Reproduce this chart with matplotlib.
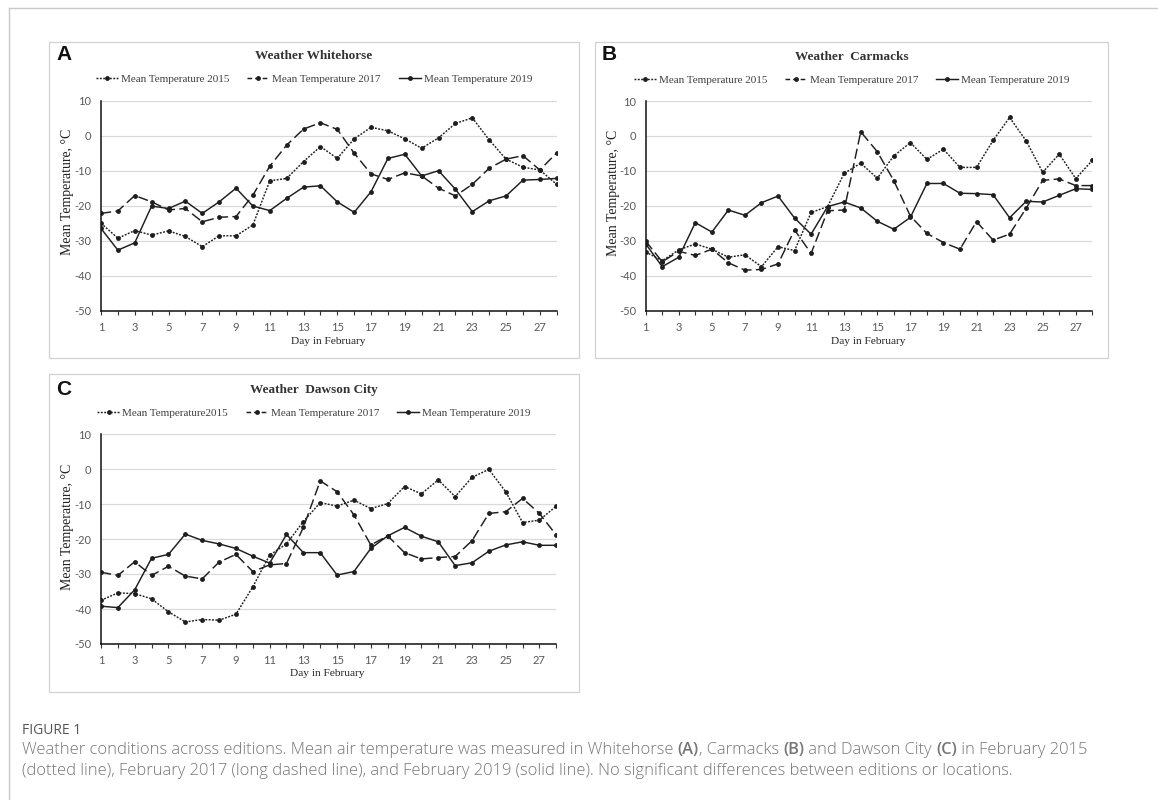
import matplotlib
matplotlib.use('Agg')
import matplotlib.pyplot as plt
from matplotlib.patches import Rectangle
from matplotlib.lines import Line2D

plt.rcParams['axes.unicode_minus'] = False

days = list(range(1, 29))
day_labels = [str(d) if d % 2 == 1 else '' for d in days]
y_ticks = [-50, -40, -30, -20, -10, 0, 10]

whitehorse_2015 = [-25.0, -29.3, -27.1, -28.4, -27.2, -28.8, -31.7, -28.6, -28.6, -25.5, -12.9, -12.2, -7.4, -3.1,
                   -6.5, -0.9, 2.4, 1.4, -0.9, -3.6, -0.6, 3.5, 5.1, -1.2, -6.7, -9.0, -9.8, -13.9]
whitehorse_2017 = [-22.2, -21.5, -17.1, -18.9, -21.2, -20.8, -24.6, -23.3, -23.1, -17.0, -8.7, -2.7, 1.9, 3.7,
                   1.8, -5.0, -10.9, -12.5, -10.6, -11.5, -15.0, -17.2, -13.9, -9.3, -6.7, -5.7, -9.8, -4.9]
whitehorse_2019 = [-26.5, -32.7, -30.6, -20.1, -20.8, -18.7, -22.2, -18.9, -15.0, -20.1, -21.4, -17.9, -14.7, -14.3,
                   -18.9, -21.9, -16.0, -6.5, -5.3, -11.5, -10.0, -15.3, -21.7, -18.6, -17.2, -12.7, -12.5, -12.2]

carmacks_2015 = [-33.2, -35.7, -32.6, -30.9, -32.4, -34.7, -34.0, -37.4, -31.7, -32.8, -21.9, -20.2, -10.7, -7.8,
                 -12.1, -5.7, -1.9, -6.7, -3.8, -9.0, -9.0, -1.3, 5.3, -1.4, -10.4, -5.2, -12.2, -7.0]
carmacks_2017 = [-30.1, -36.0, -33.0, -34.2, -32.4, -36.3, -38.4, -38.2, -36.6, -26.9, -33.6, -21.4, -21.2, 1.2,
                 -4.5, -12.8, -22.9, -27.9, -30.5, -32.4, -24.5, -29.8, -28.1, -20.7, -12.7, -12.3, -14.2, -14.2]
carmacks_2019 = [-30.9, -37.4, -34.7, -24.8, -27.5, -21.2, -22.7, -19.1, -17.2, -23.5, -28.1, -20.2, -18.9, -20.6,
                 -24.4, -26.7, -23.3, -13.6, -13.6, -16.4, -16.5, -16.8, -23.4, -18.7, -18.9, -17.0, -15.1, -15.3]

dawson_2015 = [-37.5, -35.4, -35.6, -37.1, -40.8, -43.7, -43.0, -43.2, -41.5, -33.7, -24.6, -21.4, -15.0, -9.6,
               -10.6, -8.9, -11.3, -9.9, -5.0, -7.1, -3.1, -7.9, -2.4, -0.1, -6.5, -15.3, -14.6, -10.6]
dawson_2017 = [-29.5, -30.4, -26.5, -30.4, -27.8, -30.6, -31.4, -26.6, -24.4, -29.3, -27.4, -27.0, -16.7, -3.4,
               -6.5, -13.1, -21.7, -19.1, -23.9, -25.7, -25.3, -25.0, -20.5, -12.7, -12.2, -8.4, -12.7, -18.9]
dawson_2019 = [-39.2, -39.6, -34.5, -25.5, -24.4, -18.6, -20.4, -21.4, -22.7, -24.9, -26.9, -18.7, -23.9, -23.9,
               -30.3, -29.3, -22.7, -19.1, -16.7, -19.2, -20.8, -27.6, -26.8, -23.5, -21.7, -20.8, -21.8, -21.8]

labels_ab = ['Mean Temperature 2015', 'Mean Temperature 2017', 'Mean Temperature 2019']
labels_c = ['Mean Temperature2015', 'Mean Temperature 2017', 'Mean Temperature 2019']

W, H = 1158, 800
SERIF = 'Liberation Serif'
SANS = 'Lato'
CAP_FONT = 'Open Sans'
LINE_C = '#1e1e1e'
styles = [(0, (1.3, 1.0)), (0, (7, 3)), '-']
legend_styles = [(0, (1.3, 1.0)), (0, (3.2, 2.0)), '-']

fig = plt.figure(figsize=(W / 100, H / 100), dpi=100)


def fx(x):
    return x / W


def fy(y):
    return 1 - y / H


def px_rect(left, top, right, bottom):
    return [left / W, 1 - bottom / H, (right - left) / W, (bottom - top) / H]


def frame_box(left, top, right, bottom, color):
    fig.add_artist(Rectangle((fx(left), fy(bottom)), (right - left) / W, (bottom - top) / H,
                             transform=fig.transFigure, fill=False, edgecolor=color, linewidth=0.9))


# outer figure frame (top and left edges visible)
fig.add_artist(Line2D([fx(9), fx(1158)], [fy(8), fy(8)], transform=fig.transFigure, color='#c8c8c8', lw=1))
fig.add_artist(Line2D([fx(9), fx(9)], [fy(8), fy(800)], transform=fig.transFigure, color='#c8c8c8', lw=1))

panels = [
    dict(letter='A', title='Weather Whitehorse', box=(49, 42, 579, 358), axes=(101, 100.7, 556.7, 310.7),
         series=[whitehorse_2015, whitehorse_2017, whitehorse_2019], labels=labels_ab,
         title_y=56, legend_y=79, xlabel_xy=(328, 342), ylabel_xy=(68, 192), letter_xy=(56, 55)),
    dict(letter='B', title='Weather  Carmacks', box=(595, 42, 1108, 358), axes=(645.7, 101, 1092.3, 310.7),
         series=[carmacks_2015, carmacks_2017, carmacks_2019], labels=labels_ab,
         title_y=57, legend_y=80, xlabel_xy=(868, 342), ylabel_xy=(614, 193), letter_xy=(602, 55)),
    dict(letter='C', title='Weather  Dawson City', box=(49, 374, 579, 692), axes=(101, 434, 556.3, 644),
         series=[dawson_2015, dawson_2017, dawson_2019], labels=labels_c,
         title_y=390, legend_y=413, xlabel_xy=(327, 674), ylabel_xy=(68, 527), letter_xy=(56, 389)),
]

for p in panels:
    bl, bt, br, bb = p['box']
    frame_box(bl, bt, br, bb, '#d2d2d2')
    cx = (bl + br) / 2

    ax = fig.add_axes(px_rect(*p['axes']))
    for vals, ls in zip(p['series'], styles):
        ax.plot(days, vals, color=LINE_C, linestyle=ls, linewidth=1.05,
                marker='o', markersize=3.5, markerfacecolor=LINE_C, markeredgewidth=0)

    ax.set_xlim(1, 28)
    ax.set_ylim(-50, 10)
    ax.set_xticks(days)
    ax.set_xticklabels(day_labels)
    ax.set_yticks(y_ticks)
    ax.grid(axis='y', color='#d9d9d9', linewidth=0.9)
    ax.set_axisbelow(True)
    for side in ['top', 'right']:
        ax.spines[side].set_visible(False)
    for side in ['left', 'bottom']:
        ax.spines[side].set_color('#111111')
        ax.spines[side].set_linewidth(1.1)
    ax.tick_params(axis='x', length=3, width=0.8, color='#333333', pad=5, labelsize=8, labelcolor='#595959')
    ax.tick_params(axis='y', length=0, pad=7, labelsize=8, labelcolor='#595959')
    for lbl in ax.get_xticklabels() + ax.get_yticklabels():
        lbl.set_fontfamily(SANS)

    fig.text(fx(cx), fy(p['title_y']), p['title'], ha='center', va='center',
             fontfamily=SERIF, fontweight='bold', fontsize=9.5, color='#333333')
    fig.text(fx(p['xlabel_xy'][0]), fy(p['xlabel_xy'][1]), 'Day in February', ha='center', va='center',
             fontfamily=SERIF, fontsize=8.2, color='#222222')
    fig.text(fx(p['ylabel_xy'][0]), fy(p['ylabel_xy'][1]), 'Mean Temperature, °C', ha='center', va='center',
             rotation=90, fontfamily=SERIF, fontsize=10, color='#222222')
    fig.text(fx(p['letter_xy'][0]), fy(p['letter_xy'][1]), p['letter'], ha='left', va='center',
             fontfamily='Liberation Sans', fontweight='bold', fontsize=15, color='#111111')

    handles = [Line2D([], [], color=LINE_C, linestyle=ls, linewidth=1.05, marker='o', markersize=3.5,
                      markerfacecolor=LINE_C, markeredgewidth=0, label=lab)
               for ls, lab in zip(legend_styles, p['labels'])]
    leg = ax.legend(handles=handles, ncol=3, loc='center', bbox_to_anchor=(fx(cx), fy(p['legend_y'])),
                    bbox_transform=fig.transFigure, frameon=False, handlelength=2.0, handletextpad=0.25,
                    columnspacing=1.6, prop={'family': SERIF, 'size': 8}, borderaxespad=0, borderpad=0)
    for t in leg.get_texts():
        t.set_color('#404040')

# caption
cap_kw = dict(fontfamily=CAP_FONT, fontsize=11.9, color='#767676', va='center', ha='left')
fig.text(fx(22), fy(730), 'FIGURE 1', fontfamily=CAP_FONT, fontsize=10, color='#555555', va='center', ha='left')

renderer = fig.canvas.get_renderer()


def rich_line(x, y, parts):
    for txt, weight in parts:
        t = fig.text(fx(x), fy(y), txt, fontweight=weight, **cap_kw)
        x += t.get_window_extent(renderer=renderer).width


rich_line(22, 750, [('Weather conditions across editions. Mean air temperature was measured in Whitehorse ', 'light'),
                    ('(A)', 'semibold'), (', Carmacks ', 'light'), ('(B)', 'semibold'), (' and Dawson City ', 'light'),
                    ('(C)', 'semibold'), (' in February 2015', 'light')])
rich_line(22, 771, [('(dotted line), February 2017 (long dashed line), and February 2019 (solid line). '
                     'No significant differences between editions or locations.', 'light')])

fig.savefig('out.png', dpi=100)
